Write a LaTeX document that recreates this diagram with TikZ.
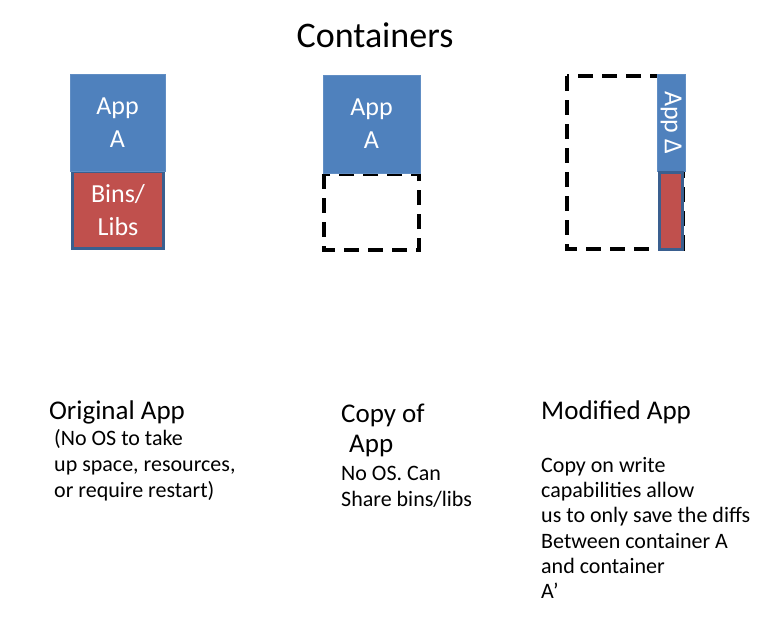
\documentclass[tikz,border=0pt]{standalone}
\usepackage{fontspec}
\setmainfont{Carlito}
\usepackage{xcolor}
\usepackage{tikz}
\usetikzlibrary{positioning}
\definecolor{appblue}{HTML}{4F81BD}
\definecolor{libred}{HTML}{C0504D}
\definecolor{edgeblue}{HTML}{3A5F8F}

\begin{document}
\begin{tikzpicture}[x=1pt, y=-1pt,
    appbox/.style={fill=appblue, draw=appblue!90!white, inner sep=0pt, text=white, align=center, font=\fontsize{26}{33}\selectfont},
    libbox/.style={fill=libred, draw=edgeblue, line width=3pt, inner sep=0pt, text=white, align=center, font=\fontsize{26}{33}\selectfont},
    dashbox/.style={draw=black, line width=3.5pt, dash pattern=on 15pt off 9pt},
    heading/.style={inner sep=0pt, font=\fontsize{27}{31}\selectfont},
    note/.style={inner sep=0pt, align=left, font=\fontsize{22}{26}\selectfont}]
  \useasboundingbox (0,0) rectangle (766,621);

  % Title
  \node[inner sep=0pt, font=\fontsize{36}{40}\selectfont] (title) at (375,35) {Containers};

  % Original app: app on top of its bins/libs
  \node[libbox, minimum width=91pt, minimum height=77pt] (libsA) at (118,210) {Bins/\\Libs};
  \node[appbox, minimum width=95pt, minimum height=97pt] (appA) at (117.5,122.5) {App\\A};

  % Copy of the app: shares the bins/libs
  \draw[dashbox] (324,174) rectangle (419,250);
  \node[appbox, minimum width=97pt, minimum height=98pt] (appCopy) at (371.5,124) {App\\A};

  % Modified app: only the delta is kept
  \draw[dashbox] (567,76) rectangle (683,249);
  \node[appbox, minimum width=97pt, minimum height=28pt, rotate=-90] (appDelta) at (671,122.5) {App Δ};
  \node[libbox, minimum width=23pt, minimum height=77pt] (libsDelta) at (671,211) {};

  % Captions
  \node[heading, anchor=base] (capOrig) at (117,419) {Original App};
  \node[note, anchor=north west] (noteOrig) at (54,429) {(No OS to take\\up space, resources,\\or require restart)};

  \node[heading, anchor=north west, align=left, font=\fontsize{27}{30}\selectfont] (capCopy) at (341,404) {Copy of\\\hspace*{8pt}App};
  \node[note, anchor=north west] (noteCopy) at (341,466) {No OS. Can\\Share bins/libs};

  \node[heading, anchor=base west] (capMod) at (541,419) {Modified App};
  \node[note, anchor=north west, font=\fontsize{22}{25.3}\selectfont] (noteMod) at (541,457) {Copy on write\\capabilities allow\\us to only save the diffs\\Between container A\\and container\\A’};
\end{tikzpicture}
\end{document}
